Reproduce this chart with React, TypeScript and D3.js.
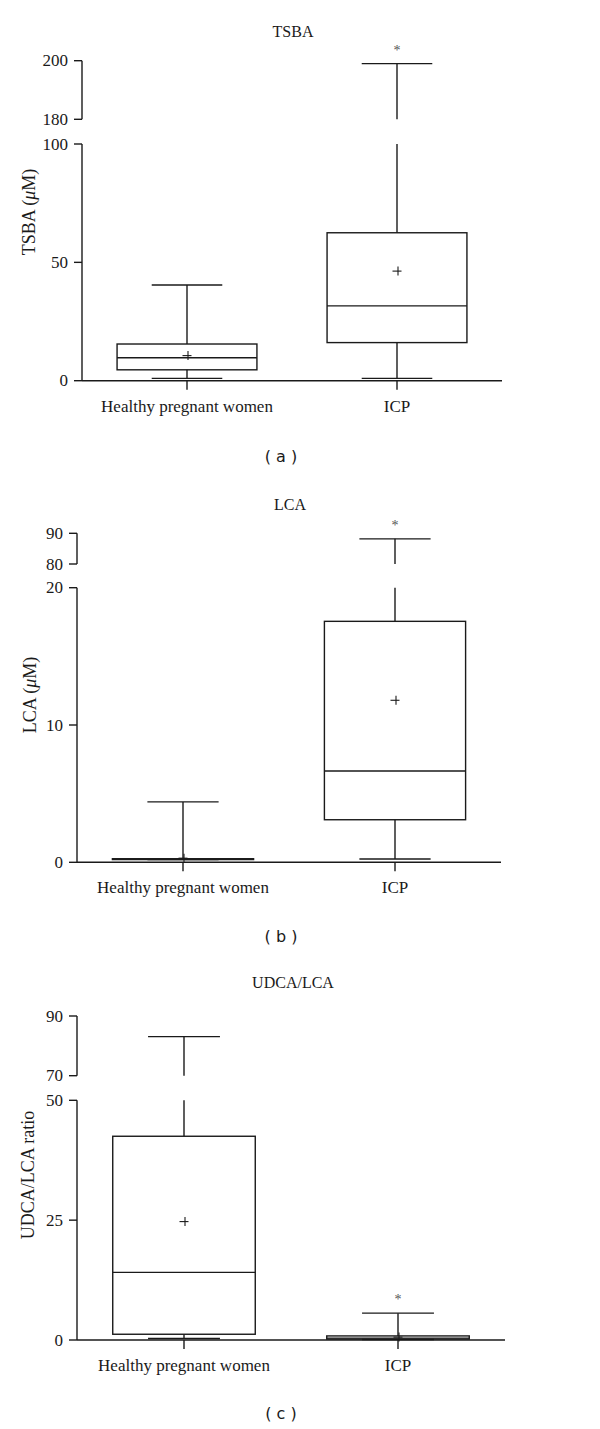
import React from "react";
import * as d3 from "d3";

const categories = ["Healthy pregnant women", "ICP"];

// Panel (a) TSBA (μM)
const tsbaMin = [1.0, 1.0];
const tsbaQ1 = [4.6, 16.1];
const tsbaMedian = [9.7, 31.6];
const tsbaQ3 = [15.5, 62.5];
const tsbaMax = [40.4, 199];
const tsbaMean = [10.6, 46.3];
const tsbaStar = [false, true];
const tsbaLowerTicks = [0, 50, 100];
const tsbaUpperTicks = [180, 200];

// Panel (b) LCA (μM)
const lcaMin = [0.2, 0.24];
const lcaQ1 = [0.2, 3.1];
const lcaMedian = [0.22, 6.65];
const lcaQ3 = [0.26, 17.55];
const lcaMax = [4.4, 88.2];
const lcaMean = [0.3, 11.8];
const lcaStar = [false, true];
const lcaLowerTicks = [0, 10, 20];
const lcaUpperTicks = [80, 90];

// Panel (c) UDCA/LCA ratio
const ratioMin = [0.3, 0.1];
const ratioQ1 = [1.2, 0.2];
const ratioMedian = [14.1, 0.4];
const ratioQ3 = [42.5, 0.85];
const ratioMax = [83.1, 5.6];
const ratioMean = [24.7, 0.6];
const ratioStar = [false, true];
const ratioLowerTicks = [0, 25, 50];
const ratioUpperTicks = [70, 90];

const SERIF = "'Liberation Serif', 'Times New Roman', serif";
const SANS = "'DejaVu Sans', Verdana, sans-serif";
const INK = "#1a1a1a";
const SW = 1.4;

type PanelProps = {
  title: string;
  yLabel: React.ReactNode;
  tag: string;
  min: number[]; q1: number[]; median: number[]; q3: number[]; max: number[]; mean: number[]; star: boolean[];
  lowerTicks: number[]; upperTicks: number[];
  layout: {
    axisX: number; xRight: number; y0: number; lowTop: number; upBottom: number; upTop: number;
    titleX: number; titleY: number; tagX: number; tagY: number; yLabelX: number; yLabelY: number;
  };
};

function Panel(p: PanelProps) {
  const L = p.layout;
  const lowMax = p.lowerTicks[p.lowerTicks.length - 1];
  const upMin = p.upperTicks[0];
  const upMax = p.upperTicks[p.upperTicks.length - 1];
  const yLow = d3.scaleLinear().domain([0, lowMax]).range([L.y0, L.lowTop]);
  const yUp = d3.scaleLinear().domain([upMin, upMax]).range([L.upBottom, L.upTop]);
  const yv = (v: number) => (v <= lowMax ? yLow(v) : yUp(v));
  const x = d3.scalePoint<string>().domain(categories).range([L.axisX, L.xRight]).padding(0.5);
  const step = x.step();
  const boxHalf = step * 0.333;
  const capHalf = step * 0.168;
  const tickLen = 8;

  return (
    <g>
      <text x={L.titleX} y={L.titleY} textAnchor="middle" fontFamily={SERIF} fontSize={16} fill={INK}>{p.title}</text>
      {/* upper axis segment */}
      <line x1={L.axisX} x2={L.axisX} y1={yUp(upMax)} y2={yUp(upMin)} stroke={INK} strokeWidth={SW} />
      {p.upperTicks.map((t) => (
        <g key={"u" + t}>
          <line x1={L.axisX - tickLen} x2={L.axisX} y1={yUp(t)} y2={yUp(t)} stroke={INK} strokeWidth={SW} />
          <text x={L.axisX - 14} y={yUp(t)} dy="0.33em" textAnchor="end" fontFamily={SERIF} fontSize={17} fill={INK}>{t}</text>
        </g>
      ))}
      {/* lower axis segment */}
      <line x1={L.axisX} x2={L.axisX} y1={yLow(lowMax)} y2={yLow(0)} stroke={INK} strokeWidth={SW} />
      {p.lowerTicks.map((t) => (
        <g key={"l" + t}>
          <line x1={L.axisX - tickLen} x2={L.axisX} y1={yLow(t)} y2={yLow(t)} stroke={INK} strokeWidth={SW} />
          <text x={L.axisX - 14} y={yLow(t)} dy="0.33em" textAnchor="end" fontFamily={SERIF} fontSize={17} fill={INK}>{t}</text>
        </g>
      ))}
      {/* x axis */}
      <line x1={L.axisX} x2={L.xRight} y1={L.y0} y2={L.y0} stroke={INK} strokeWidth={SW} />
      {categories.map((c) => (
        <g key={"xc" + c}>
          <line x1={x(c)!} x2={x(c)!} y1={L.y0} y2={L.y0 + 9} stroke={INK} strokeWidth={SW} />
          <text x={x(c)!} y={L.y0 + 31} textAnchor="middle" fontFamily={SERIF} fontSize={17} fill={INK}>{c}</text>
        </g>
      ))}
      {/* boxes */}
      {categories.map((c, i) => {
        const cx = x(c)!;
        const segs: [number, number][] = [];
        if (p.max[i] > lowMax) {
          segs.push([yv(p.q3[i]), yLow(lowMax)]);
          segs.push([yUp(upMin), yUp(p.max[i])]);
        } else {
          segs.push([yv(p.q3[i]), yv(p.max[i])]);
        }
        segs.push([yv(p.q1[i]), yv(p.min[i])]);
        const yMax = yv(p.max[i]);
        return (
          <g key={"b" + c}>
            {segs.map((s, k) => (
              <line key={k} x1={cx} x2={cx} y1={s[0]} y2={s[1]} stroke={INK} strokeWidth={SW} />
            ))}
            <line x1={cx - capHalf} x2={cx + capHalf} y1={yMax} y2={yMax} stroke={INK} strokeWidth={SW} />
            <line x1={cx - capHalf} x2={cx + capHalf} y1={yv(p.min[i])} y2={yv(p.min[i])} stroke={INK} strokeWidth={SW} />
            <rect x={cx - boxHalf} y={yv(p.q3[i])} width={boxHalf * 2} height={Math.max(0.5, yv(p.q1[i]) - yv(p.q3[i]))} fill="none" stroke={INK} strokeWidth={SW} />
            <line x1={cx - boxHalf} x2={cx + boxHalf} y1={yv(p.median[i])} y2={yv(p.median[i])} stroke={INK} strokeWidth={SW} />
            <line x1={cx - 4.5} x2={cx + 4.5} y1={yv(p.mean[i])} y2={yv(p.mean[i])} stroke={INK} strokeWidth={1.1} />
            <line x1={cx + 1} x2={cx + 1} y1={yv(p.mean[i]) - 4.5} y2={yv(p.mean[i]) + 4.5} stroke={INK} strokeWidth={1.1} />
            {p.star[i] && (
              <text x={cx} y={yMax - 9} textAnchor="middle" fontFamily={SERIF} fontSize={14} fill="#555">*</text>
            )}
          </g>
        );
      })}
      {/* y label */}
      <text transform={`translate(${L.yLabelX},${L.yLabelY}) rotate(-90)`} textAnchor="middle" fontFamily={SERIF} fontSize={18} fill={INK}>{p.yLabel}</text>
      <text x={L.tagX} y={L.tagY} textAnchor="middle" fontFamily={SANS} fontSize={16} fill={INK} xmlSpace="preserve">{p.tag}</text>
    </g>
  );
}

export default function App() {
  return (
    <svg width={600} height={1429} style={{ position: "absolute", left: 0, top: 0, background: "#fff" }}>
      <rect x={0} y={0} width={600} height={1429} fill="#fff" />
      <Panel
        title="TSBA"
        yLabel={<>TSBA (<tspan fontStyle="italic">μ</tspan>M)</>}
        tag="( a )"
        min={tsbaMin} q1={tsbaQ1} median={tsbaMedian} q3={tsbaQ3} max={tsbaMax} mean={tsbaMean} star={tsbaStar}
        lowerTicks={tsbaLowerTicks} upperTicks={tsbaUpperTicks}
        layout={{ axisX: 82, xRight: 502, y0: 380.7, lowTop: 144, upBottom: 119.3, upTop: 60.7, titleX: 293, titleY: 37, tagX: 281, tagY: 462, yLabelX: 35, yLabelY: 212 }}
      />
      <Panel
        title="LCA"
        yLabel={<>LCA (<tspan fontStyle="italic">μ</tspan>M)</>}
        tag="( b )"
        min={lcaMin} q1={lcaQ1} median={lcaMedian} q3={lcaQ3} max={lcaMax} mean={lcaMean} star={lcaStar}
        lowerTicks={lcaLowerTicks} upperTicks={lcaUpperTicks}
        layout={{ axisX: 77, xRight: 501, y0: 862.3, lowTop: 587.7, upBottom: 564, upTop: 533.3, titleX: 290, titleY: 510, tagX: 281, tagY: 942, yLabelX: 36, yLabelY: 695 }}
      />
      <Panel
        title="UDCA/LCA"
        yLabel="UDCA/LCA ratio"
        tag="( c )"
        min={ratioMin} q1={ratioQ1} median={ratioMedian} q3={ratioQ3} max={ratioMax} mean={ratioMean} star={ratioStar}
        lowerTicks={ratioLowerTicks} upperTicks={ratioUpperTicks}
        layout={{ axisX: 77, xRight: 505, y0: 1340, lowTop: 1100.3, upBottom: 1075.7, upTop: 1016, titleX: 293, titleY: 988, tagX: 281, tagY: 1419, yLabelX: 34, yLabelY: 1175 }}
      />
    </svg>
  );
}
